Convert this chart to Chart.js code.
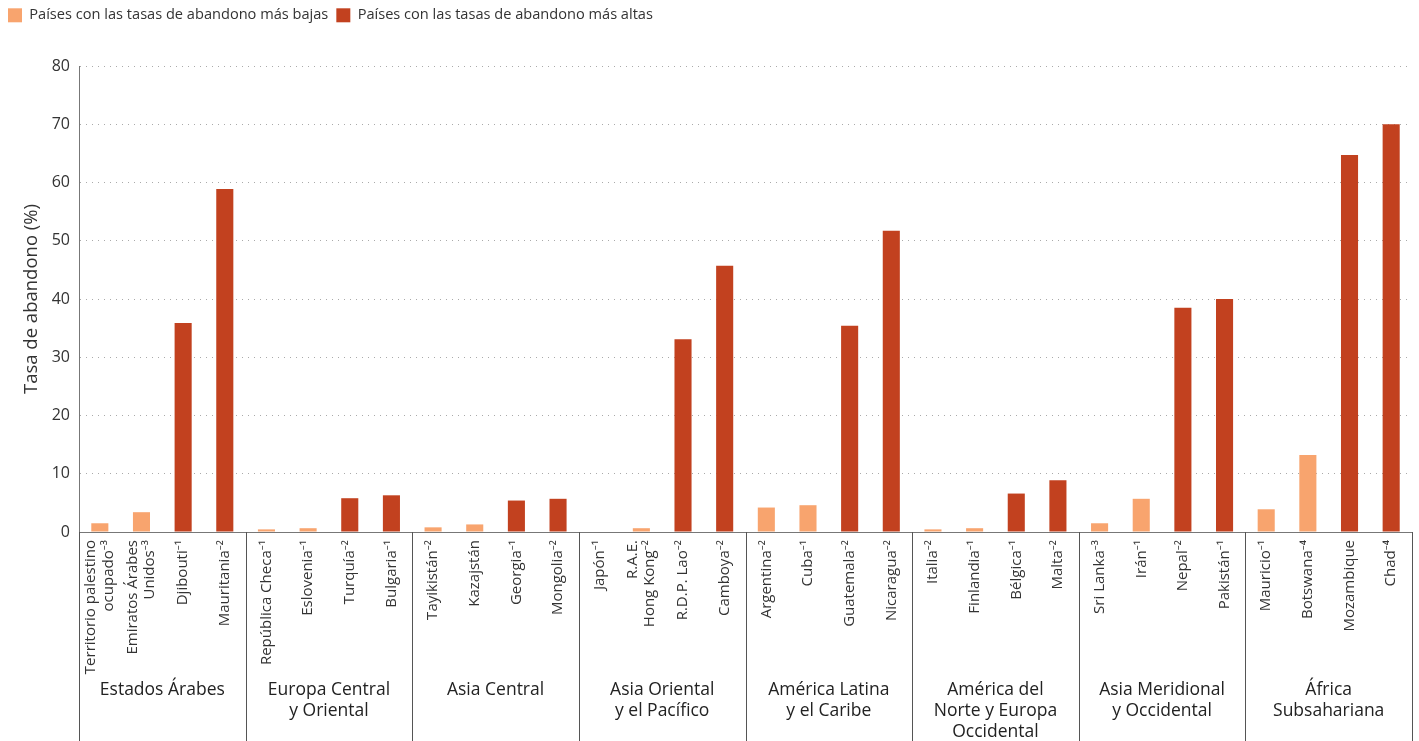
<!DOCTYPE html>
<html>
<head>
<meta charset="utf-8">
<script src="https://cdn.jsdelivr.net/npm/chart.js@4.4.1/dist/chart.umd.min.js"></script>
<style>
  html, body { margin: 0; padding: 0; background: #fff; }
  #wrap { width: 1419px; height: 741px; }
</style>
</head>
<body>
<div id="wrap"><canvas id="dropoutChart"></canvas></div>
<script>
// country labels, 4 per region
const countries = [
    ['Territorio palestino', 'ocupado⁻³'], ['Emiratos Árabes', 'Unidos⁻³'], 'Djibouti⁻¹', 'Mauritania⁻²',
    'República Checa⁻¹', 'Eslovenia⁻¹', 'Turquía⁻²', 'Bulgaria⁻¹',
    'Tayikistán⁻²', 'Kazajstán', 'Georgia⁻¹', 'Mongolia⁻²',
    'Japón⁻¹', ['R.A.E.', 'Hong Kong⁻²'], 'R.D.P. Lao⁻²', 'Camboya⁻²',
    'Argentina⁻²', 'Cuba⁻¹', 'Guatemala⁻²', 'Nicaragua⁻²',
    'Italia⁻²', 'Finlandia⁻¹', 'Bélgica⁻¹', 'Malta⁻²',
    'Sri Lanka⁻³', 'Irán⁻¹', 'Nepal⁻²', 'Pakistán⁻¹',
    'Mauricio⁻¹', 'Botswana⁻⁴', 'Mozambique', 'Chad⁻⁴'
];

const regions = [
    ['Estados Árabes'],
    ['Europa Central', 'y Oriental'],
    ['Asia Central'],
    ['Asia Oriental', 'y el Pacífico'],
    ['América Latina', 'y el Caribe'],
    ['América del', 'Norte y Europa', 'Occidental'],
    ['Asia Meridional', 'y Occidental'],
    ['África', 'Subsahariana']
];

// lowest dropout rates (%)
const lowRates = [
    1.5, 3.4, null, null,
    0.45, 0.65, null, null,
    0.8, 1.3, null, null,
    0, 0.65, null, null,
    4.2, 4.6, null, null,
    0.45, 0.65, null, null,
    1.5, 5.7, null, null,
    3.9, 13.2, null, null
];

// highest dropout rates (%)
const highRates = [
    null, null, 35.9, 58.9,
    null, null, 5.8, 6.3,
    null, null, 5.4, 5.7,
    null, null, 33.1, 45.7,
    null, null, 35.4, 51.7,
    null, null, 6.6, 8.9,
    null, null, 38.5, 40.0,
    null, null, 64.7, 70.0
];

const seriesNames = ['Países con las tasas de abandono más bajas', 'Países con las tasas de abandono más altas'];

const lightOrange = '#F8A46E';
const darkRed = '#C2411F';
const fontFamily = '"Open Sans", "Noto Sans", sans-serif';

// make room above the plot
const legendSpacer = {
    id: 'legendSpacer',
    beforeInit(chart) {
        const origFit = chart.legend.fit;
        chart.legend.fit = function () {
            origFit.call(this);
            this.height = 66;
        };
    }
};

// centre the two-line country labels on their bar
const centerMultiline = {
    id: 'centerMultiline',
    beforeDraw(chart) {
        const xs = chart.scales.x;
        xs.getLabelItems().forEach(item => {
            if (Array.isArray(item.label) && !item._centered) {
                item.options.translation[0] -= item.font.lineHeight * (item.label.length - 1) / 2;
                item._centered = true;
            }
        });
    }
};

// region dividers and names under the country labels
const regionLabels = {
    id: 'regionLabels',
    afterDraw(chart) {
        const ctx = chart.ctx;
        const xs = chart.scales.x;
        const groupWidth = xs.width / regions.length;
        ctx.save();
        ctx.strokeStyle = '#555';
        ctx.lineWidth = 1;
        for (let g = 0; g <= regions.length; g++) {
            const x = Math.round(xs.left + g * groupWidth) + 0.5;
            ctx.beginPath();
            ctx.moveTo(x, xs.top);
            ctx.lineTo(x, chart.height);
            ctx.stroke();
        }
        ctx.font = '17.5px ' + fontFamily;
        ctx.fillStyle = '#222';
        ctx.textAlign = 'center';
        ctx.textBaseline = 'middle';
        regions.forEach((lines, g) => {
            const cx = xs.left + (g + 0.5) * groupWidth;
            lines.forEach((line, i) => ctx.fillText(line, cx, xs.top + 158 + i * 21));
        });
        ctx.restore();
    }
};

const ctx = document.getElementById('dropoutChart').getContext('2d');
const dropoutChart = new Chart(ctx, {
    type: 'bar',
    data: {
        labels: countries,
        datasets: [{
            label: seriesNames[0],
            data: lowRates,
            backgroundColor: lightOrange,
            borderWidth: 0
        },
        {
            label: seriesNames[1],
            data: highRates,
            backgroundColor: darkRed,
            borderWidth: 0
        }]
    },
    options: {
        responsive: true,
        maintainAspectRatio: false,
        animation: false,
        grouped: false,
        barPercentage: 0.41,
        categoryPercentage: 1,
        layout: { padding: { left: 0, right: 7, top: 0, bottom: 0 } },
        plugins: {
            legend: {
                position: 'top',
                align: 'start',
                labels: {
                    boxWidth: 14,
                    boxHeight: 14,
                    padding: 8,
                    color: '#333',
                    font: { family: fontFamily, size: 14.6 }
                }
            },
            tooltip: { enabled: false }
        },
        scales: {
            x: {
                grid: { display: false, drawTicks: false },
                border: { display: true, color: '#777', width: 1 },
                ticks: {
                    autoSkip: false,
                    minRotation: 90,
                    maxRotation: 90,
                    padding: 8,
                    color: '#333',
                    font: { family: fontFamily, size: 15, lineHeight: 1.15 }
                },
                afterFit(scale) { scale.height = 209; }
            },
            y: {
                min: 0,
                max: 80,
                ticks: {
                    stepSize: 10,
                    padding: 9,
                    color: '#333',
                    font: { family: fontFamily, size: 16 }
                },
                grid: { color: '#aaa', lineWidth: 1, drawTicks: false },
                border: { display: true, color: '#777', width: 1, dash: [1, 5] },
                title: {
                    display: true,
                    text: 'Tasa de abandono (%)',
                    color: '#333',
                    font: { family: fontFamily, size: 18.5 },
                    padding: { top: 21, bottom: 0 }
                },
                afterFit(scale) { scale.width = 79; }
            }
        }
    },
    plugins: [legendSpacer, centerMultiline, regionLabels]
});
</script>
</body>
</html>
